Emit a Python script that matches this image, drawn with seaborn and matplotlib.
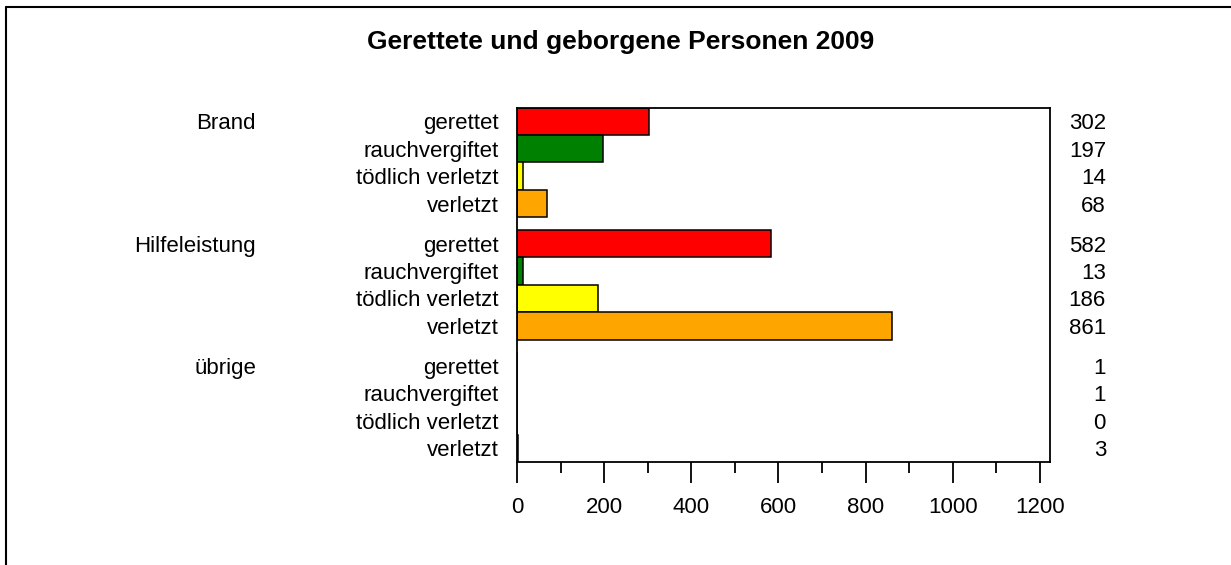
"""Gerettete und geborgene Personen 2009 - horizontal grouped bar chart."""

import matplotlib

matplotlib.use("Agg")
import matplotlib.pyplot as plt
import matplotlib.transforms as mtransforms
import pandas as pd
import seaborn as sns
from matplotlib.lines import Line2D
from matplotlib.ticker import MultipleLocator

# Data
groups = ["Brand", "Hilfeleistung", "übrige"]
categories = ["gerettet", "rauchvergiftet", "tödlich verletzt", "verletzt"]
brand = [302, 197, 14, 68]
hilfeleistung = [582, 13, 186, 861]
uebrige = [1, 1, 0, 3]
x_ticks = [0, 200, 400, 600, 800, 1000, 1200]

colors = {
    "gerettet": "#ff0000",
    "rauchvergiftet": "#008000",
    "tödlich verletzt": "#ffff00",
    "verletzt": "#ffa500",
}

GAP = 0.456  # extra space between groups, in bar heights
FS = 16

rows = []
for g, (grp, vals) in enumerate(zip(groups, [brand, hilfeleistung, uebrige])):
    for c, (cat, v) in enumerate(zip(categories, vals)):
        rows.append({
            "group": grp,
            "category": cat,
            "value": v,
            "pos": g * (len(categories) + GAP) + c,
        })
df = pd.DataFrame(rows)

sns.set_theme(style="ticks", rc={"axes.edgecolor": "black", "xtick.color": "black",
                                 "ytick.color": "black", "text.color": "black"})
plt.rcParams["font.family"] = ["Liberation Sans", "DejaVu Sans"]

fig = plt.figure(figsize=(12.31, 5.65), dpi=100)
ax = fig.add_axes([517 / 1231, 1 - 462 / 565, (1050 - 517) / 1231, (462 - 107.5) / 565])

sns.barplot(
    data=df,
    x="value",
    y="pos",
    hue="category",
    palette=colors,
    saturation=1,
    orient="y",
    native_scale=True,
    dodge=False,
    width=1,
    errorbar=None,
    edgecolor="black",
    linewidth=1.1,
    legend=False,
    ax=ax,
)

ax.set_xlim(0, 1223)
ax.set_ylim(df["pos"].max() + 0.5, -0.5)
ax.set_xticks(x_ticks)
ax.set_xticklabels([str(t) for t in x_ticks])
ax.xaxis.set_minor_locator(MultipleLocator(100))
ax.set_yticks(df["pos"])
ax.set_yticklabels(df["category"])
ax.tick_params(axis="x", which="major", direction="out", length=15, width=1.3,
               labelsize=FS, pad=10)
ax.tick_params(axis="x", which="minor", direction="out", length=8, width=1.3)
ax.tick_params(axis="y", length=0, labelsize=FS, pad=13)
ax.set_xlabel("")
ax.set_ylabel("")
for sp in ax.spines.values():
    sp.set_visible(True)
    sp.set_linewidth(1.3)
    sp.set_color("black")

# value labels on the right, group labels on the left
trans = mtransforms.blended_transform_factory(fig.transFigure, ax.transData)
for _, r in df.iterrows():
    ax.text(1106 / 1231, r["pos"], str(r["value"]), transform=trans,
            ha="right", va="center_baseline", fontsize=FS, clip_on=False)
for grp in groups:
    first = df.loc[df["group"] == grp, "pos"].min()
    ax.text(256 / 1231, first, grp, transform=trans,
            ha="right", va="center_baseline", fontsize=FS, clip_on=False)

fig.text(621 / 1231, 1 - 48.5 / 565, "Gerettete und geborgene Personen 2009",
         ha="center", va="baseline", fontsize=19, fontweight="bold")

# outer frame (only top and left edges are inside the picture)
fig.add_artist(Line2D([5.5 / 1231, 5.5 / 1231], [0, 1 - 6.7 / 565],
                      transform=fig.transFigure, color="black", lw=1.5))
fig.add_artist(Line2D([5.5 / 1231, 1], [1 - 6.7 / 565, 1 - 6.7 / 565],
                      transform=fig.transFigure, color="black", lw=1.5))

fig.savefig("out.png", dpi=100)
plt.close(fig)
